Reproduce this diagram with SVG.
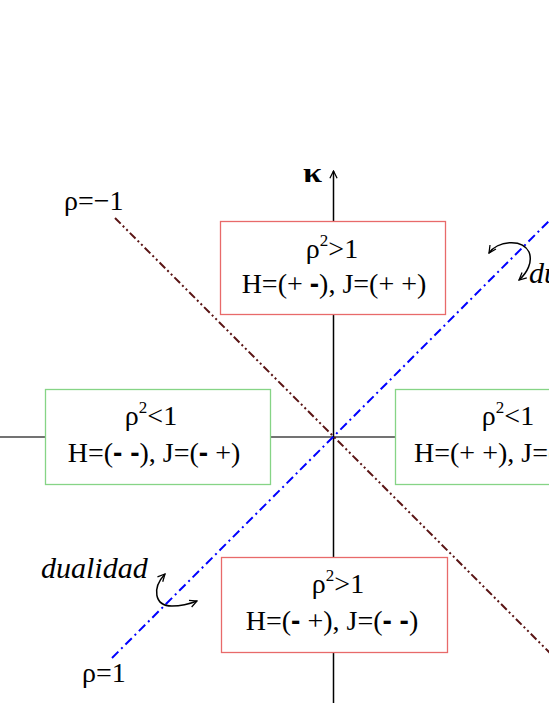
<svg xmlns="http://www.w3.org/2000/svg" width="549" height="711" viewBox="0 0 549 711">
<style>
.t{font-family:"Liberation Serif","Times New Roman",serif;font-size:28px;fill:#000}
.b{font-family:"Liberation Sans",Arial,sans-serif;font-weight:bold}
.it{font-family:"Liberation Serif","Times New Roman",serif;font-style:italic;font-size:30px;fill:#000}
.sup{font-size:17px}
.red{fill:#fff;stroke:#e86a6a;stroke-width:1.3}
.grn{fill:#fff;stroke:#86d486;stroke-width:1.3}
.curv{fill:none;stroke:#000;stroke-width:1.5}
</style>
<defs>
<marker id="ah" viewBox="0 0 10 10" refX="9" refY="5" markerWidth="9" markerHeight="9" markerUnits="userSpaceOnUse" orient="auto-start-reverse">
<path d="M1,1 L9,5 L1,9" fill="none" stroke="#000" stroke-width="1.4"/>
</marker>
</defs>
<rect width="549" height="711" fill="#fff"/>
<g id="connectors">
<line x1="0" y1="437" x2="549" y2="437" stroke="#444" stroke-width="1.5"/>
<line x1="333.5" y1="703" x2="333.5" y2="171" stroke="#000" stroke-width="1.5" marker-end="url(#ah)"/>
<line x1="115" y1="218" x2="555" y2="658" stroke="#5a1414" stroke-width="2" stroke-dasharray="8,3,2,3,2,3"/>
<line x1="112" y1="658" x2="555" y2="215" stroke="#0000ff" stroke-width="2" stroke-dasharray="9,4,2,4"/>
<path class="curv" d="M165,574 C152,588 154,606 172,606 C183,606 192,603 197,601" marker-start="url(#ah)" marker-end="url(#ah)"/>
<path class="curv" d="M489,253 C497,241 522,238 529,252 C533,262 527,273 519,280" marker-start="url(#ah)" marker-end="url(#ah)"/>
</g>
<g id="node-top">
<rect class="red" x="220.5" y="221.5" width="225" height="93" stroke="#f49494"/>
<text class="t" x="332" y="258" text-anchor="middle">ρ<tspan class="sup" dy="-12">2</tspan><tspan dy="12">&gt;1</tspan></text>
<text class="t" x="334" y="293" text-anchor="middle">H=(+ <tspan class="b">-</tspan>), J=(+ +)</text>
</g>
<g id="node-left">
<rect class="grn" x="45.5" y="389.5" width="225" height="95"/>
<text class="t" x="151" y="425" text-anchor="middle">ρ<tspan class="sup" dy="-12">2</tspan><tspan dy="12">&lt;1</tspan></text>
<text class="t" x="154" y="462" text-anchor="middle">H=(<tspan class="b">- -</tspan>), J=(<tspan class="b">-</tspan> +)</text>
</g>
<g id="node-right">
<rect class="grn" x="395.5" y="389.5" width="225" height="95"/>
<text class="t" x="508" y="425" text-anchor="middle">ρ<tspan class="sup" dy="-12">2</tspan><tspan dy="12">&lt;1</tspan></text>
<text class="t" x="414" y="462">H=(+ +), J=(+ <tspan class="b">-</tspan>)</text>
</g>
<g id="node-bottom">
<rect class="red" x="221.5" y="557.5" width="226" height="95"/>
<text class="t" x="338" y="593" text-anchor="middle">ρ<tspan class="sup" dy="-12">2</tspan><tspan dy="12">&gt;1</tspan></text>
<text class="t" x="332" y="630" text-anchor="middle">H=(<tspan class="b">-</tspan> +), J=(<tspan class="b">- -</tspan>)</text>
</g>
<g id="labels">
<text class="t" x="303" y="182" font-size="25" font-weight="bold" textLength="19" lengthAdjust="spacingAndGlyphs">κ</text>
<text class="t" x="64" y="210" font-size="27">ρ=−1</text>
<text class="t" x="82" y="682" font-size="27">ρ=1</text>
<text class="it" x="41" y="578">dualidad</text>
<text class="it" x="529" y="283">dualidad</text>
</g>
</svg>
